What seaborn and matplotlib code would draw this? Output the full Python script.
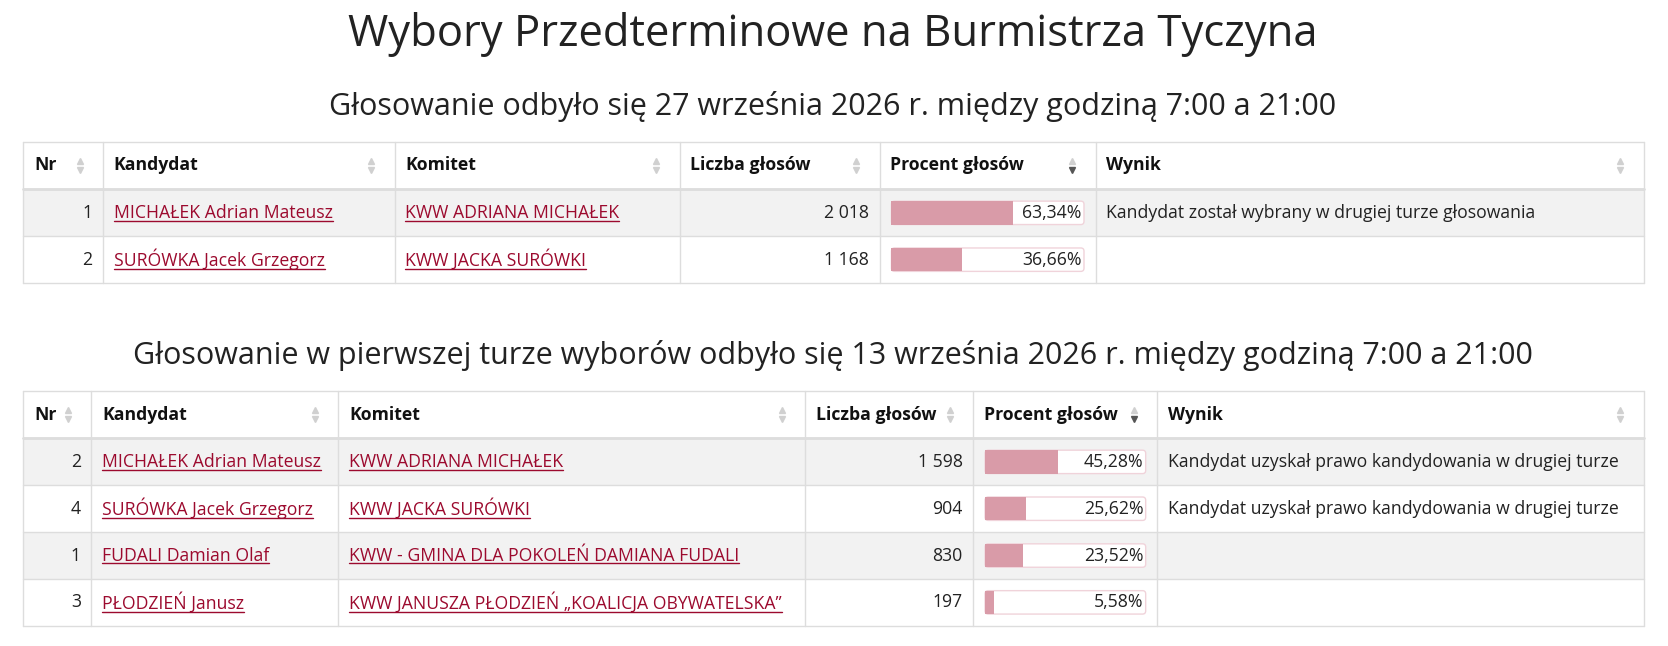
import matplotlib
matplotlib.use("Agg")
import matplotlib.pyplot as plt
import seaborn as sns
from matplotlib.patches import Rectangle, FancyBboxPatch

sns.set_theme(style="white")
plt.rcParams['font.family'] = ['Open Sans', 'DejaVu Sans']

title = "Wybory Przedterminowe na Burmistrza Tyczyna"
sub1 = "Głosowanie odbyło się 27 września 2026 r. między godziną 7:00 a 21:00"
sub2 = "Głosowanie w pierwszej turze wyborów odbyło się 13 września 2026 r. między godziną 7:00 a 21:00"
headers = ["Nr", "Kandydat", "Komitet", "Liczba głosów", "Procent głosów", "Wynik"]

nr1 = [1, 2]
kand1 = ["MICHAŁEK Adrian Mateusz", "SURÓWKA Jacek Grzegorz"]
kom1 = ["KWW ADRIANA MICHAŁEK", "KWW JACKA SURÓWKI"]
glosy1 = ["2 018", "1 168"]
proc1 = [63.34, 36.66]
wynik1 = ["Kandydat został wybrany w drugiej turze głosowania", ""]

nr2 = [2, 4, 1, 3]
kand2 = ["MICHAŁEK Adrian Mateusz", "SURÓWKA Jacek Grzegorz", "FUDALI Damian Olaf", "PŁODZIEŃ Janusz"]
kom2 = ["KWW ADRIANA MICHAŁEK", "KWW JACKA SURÓWKI",
        "KWW - GMINA DLA POKOLEŃ DAMIANA FUDALI", "KWW JANUSZA PŁODZIEŃ „KOALICJA OBYWATELSKA”"]
glosy2 = ["1 598", "904", "830", "197"]
proc2 = [45.28, 25.62, 23.52, 5.58]
wynik2 = ["Kandydat uzyskał prawo kandydowania w drugiej turze",
          "Kandydat uzyskał prawo kandydowania w drugiej turze", "", ""]

W, H = 1568, 607
fig = plt.figure(figsize=(16.68, 6.46), dpi=100)
ax = fig.add_axes([0, 0, 1, 1])
ax.set_xlim(0, W)
ax.set_ylim(H, 0)
ax.axis("off")

TXT = "#222222"
LINK = "#9c0a2e"
GRID = "#dddddd"
BAR = "#d99ba8"
FS = 12.7
links = []

ax.text(783, 32, title, ha="center", va="center", fontsize=31.4, color=TXT)


def table(top, cols, nr, kand, kom, glosy, proc, wynik):
    hh, rh = 45, 44
    bottom = top + hh + rh * len(nr)
    for i in range(len(nr)):
        y0 = top + hh + i * rh
        if i % 2 == 0:
            ax.add_patch(Rectangle((cols[0], y0), cols[-1] - cols[0], rh, color="#f2f2f2", lw=0))
    # grid
    for x in cols:
        ax.plot([x, x], [top, bottom], color=GRID, lw=1)
    ax.plot([cols[0], cols[-1]], [top, top], color=GRID, lw=1)
    ax.plot([cols[0], cols[-1]], [top + hh, top + hh], color=GRID, lw=2)
    for i in range(len(nr) + 1):
        y = top + hh + i * rh
        ax.plot([cols[0], cols[-1]], [y, y], color=GRID, lw=1)
    # header
    yc = top + hh / 2
    for j, h in enumerate(headers):
        ax.text(cols[j] + 10, yc, h, ha="left", va="center", fontsize=FS, weight="bold", color="#111")
        ax_ = cols[j + 1] - 22
        dark = (h == "Procent głosów")
        ax.plot(ax_, yc - 4, marker="^", ms=5, color="#d0d0d0", lw=0)
        ax.plot(ax_, yc + 4, marker="v", ms=5, color="#555555" if dark else "#d0d0d0", lw=0)
    bw = cols[4 + 1] - cols[4] - 22
    for i in range(len(nr)):
        y = top + hh + i * rh + rh / 2
        ax.text(cols[1] - 10, y, str(nr[i]), ha="right", va="center", fontsize=FS, color=TXT)
        links.append(ax.text(cols[1] + 10, y, kand[i], ha="left", va="center", fontsize=FS, color=LINK))
        links.append(ax.text(cols[2] + 10, y, kom[i], ha="left", va="center", fontsize=FS, color=LINK))
        ax.text(cols[4] - 10, y, glosy[i], ha="right", va="center", fontsize=FS, color=TXT)
        x0 = cols[4] + 11
        ax.add_patch(FancyBboxPatch((x0, y - 11), bw, 22, boxstyle="round,pad=0,rounding_size=3",
                                    fc="white", ec="#f0d3da", lw=1))
        ax.barh(y, proc[i] / 100 * bw, left=x0, height=22, color=BAR, lw=0)
        ax.text(x0 + bw - 2, y, f"{proc[i]:.2f}%".replace(".", ","), ha="right", va="center",
                fontsize=FS, color=TXT)
        ax.text(cols[5] + 10, y, wynik[i], ha="left", va="center", fontsize=FS, color=TXT)


ax.text(783, 100, sub1, ha="center", va="center", fontsize=22, color=TXT)
table(133, [22, 97, 371, 639, 827, 1030, 1545], nr1, kand1, kom1, glosy1, proc1, wynik1)
ax.text(783, 334, sub2, ha="center", va="center", fontsize=22, color=TXT)
table(367, [22, 86, 318, 757, 915, 1088, 1545], nr2, kand2, kom2, glosy2, proc2, wynik2)

# underline links
fig.canvas.draw()
r = fig.canvas.get_renderer()
inv = ax.transData.inverted()
for t in links:
    bb = t.get_window_extent(r)
    (xa, ya), (xb, yb) = inv.transform([(bb.x0, bb.y0), (bb.x1, bb.y1)])
    ax.plot([xa, xb], [ya - 1, ya - 1], color=LINK, lw=1)

fig.savefig("out.png", dpi=100)
